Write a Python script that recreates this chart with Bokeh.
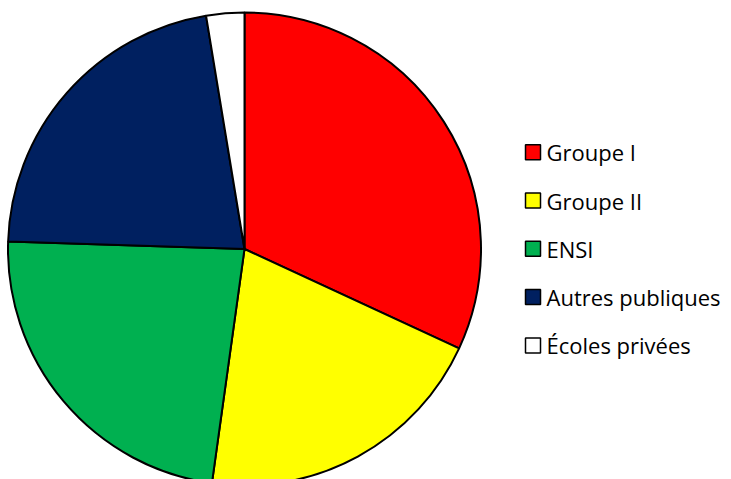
import math
from bokeh.plotting import figure
from bokeh.models import Range1d, ColumnDataSource
from bokeh.core.properties import value
from bokeh.embed import file_html
from bokeh.resources import INLINE

categories = ["Groupe I", "Groupe II", "ENSI", "Autres publiques", "Écoles privées"]
shares = [31.9, 20.3, 23.3, 21.9, 2.6]
colors = ["#FF0000", "#FFFF00", "#00B050", "#002060", "#FFFFFF"]

W, H = 731, 479
p = figure(width=W, height=H, output_backend="svg", toolbar_location=None,
           x_range=Range1d(0, W), y_range=Range1d(0, H), min_border=0)
p.axis.visible = False
p.grid.visible = False
p.outline_line_color = None
p.background_fill_color = "white"
p.border_fill_color = "white"

cx, cy, r = 244.0, 230.5, 236.5
total = sum(shares)
starts, ends = [], []
acc = 0.0
for s in shares:
    t1 = acc / total * 2 * math.pi
    acc += s
    t2 = acc / total * 2 * math.pi
    starts.append(math.pi / 2 - t2)
    ends.append(math.pi / 2 - t1)

src = ColumnDataSource(dict(cat=categories, start=starts, end=ends, color=colors))
p.wedge(x=cx, y=cy, radius=r, start_angle="start", end_angle="end",
        fill_color="color", line_color="black", line_width=2, source=src)

# legend
ly0, dy = 327.3, 48.3
lys = [ly0 - i * dy for i in range(len(categories))]
lsrc = ColumnDataSource(dict(y=lys, cat=categories, color=colors))
p.scatter(x=532.5, y="y", marker="square", size=15, fill_color="color",
          line_color="black", line_width=1.5, source=lsrc)
p.text(x=546, y="y", text="cat", text_font=value("Open Sans"), text_font_size="22px",
       text_baseline="middle", text_align="left", text_color="black", source=lsrc)

open("out.html", "w").write(file_html(p, INLINE))
